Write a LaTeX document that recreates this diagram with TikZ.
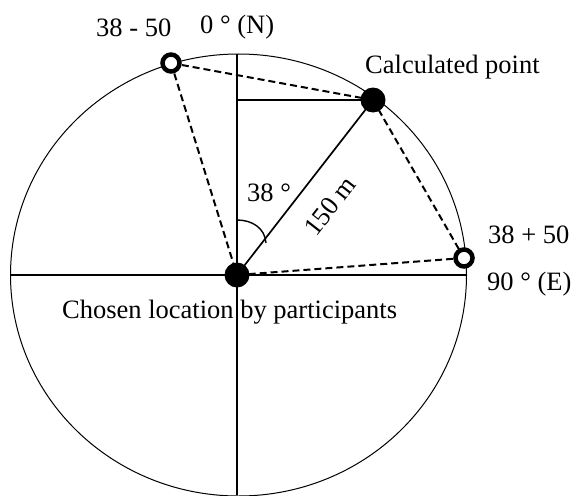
\documentclass[tikz,border=0pt]{standalone}
\usepackage{fontspec}
\setmainfont{Liberation Serif}
\begin{document}
\begin{tikzpicture}[x=1pt,y=-1pt,
  font=\fontsize{26.5}{30}\selectfont,
  lbl/.style={anchor=base west,inner sep=0pt},
  fulldot/.style={circle,fill=black,minimum size=25pt,inner sep=0pt},
  opendot/.style={circle,draw=black,line width=4.5pt,fill=white,minimum size=17pt,inner sep=0pt},
  axis/.style={line width=1.7pt},
  dashln/.style={dashed,dash pattern=on 7pt off 4pt,line width=2pt}]
\useasboundingbox (0,0) rectangle (572,495);
\draw[line width=1pt] (238.5,275) ellipse [x radius=228, y radius=221];
\coordinate (top) at (237,54);
\coordinate (bot) at (237,495);
\coordinate (left) at (11,275);
\coordinate (right) at (467,275);
\coordinate (c) at (237,275);
\coordinate (hn) at (237,100);
\coordinate (p) at (373,100);
\coordinate (a) at (171,63);
\coordinate (b) at (464,258);
\draw[axis] (top) -- (bot);
\draw[axis] (left) -- (right);
\draw[axis] (hn) -- (p);
\draw[axis] (c) -- (p);
\draw[line width=1.4pt] (237,220) .. controls (252,220) and (265,228) .. (266,243);
\draw[dashln] (a) -- (c);
\draw[dashln] (a) -- (p);
\draw[dashln] (p) -- (b);
\draw[dashln] (b) -- (c);
\node[fulldot] (cd) at (c) {};
\node[fulldot] (pd) at (p) {};
\node[opendot] (ad) at (a) {};
\node[opendot] (bd) at (b) {};
\node[lbl] (t1) at (96,37) {38 - 50};
\node[lbl] (t2) at (200,33.5) {0 ° (N)};
\node[lbl] (t3) at (365,73) {Calculated point};
\node[lbl] (t4) at (488,243) {38 + 50};
\node[lbl] (t5) at (487,290) {90 ° (E)};
\node[lbl] (t6) at (62,318) {Chosen location by participants};
\node[lbl] (t7) at (247,201) {38 °};
\node[inner sep=0pt,rotate=52] (t8) at (330,206) {150 m};
\end{tikzpicture}
\end{document}
